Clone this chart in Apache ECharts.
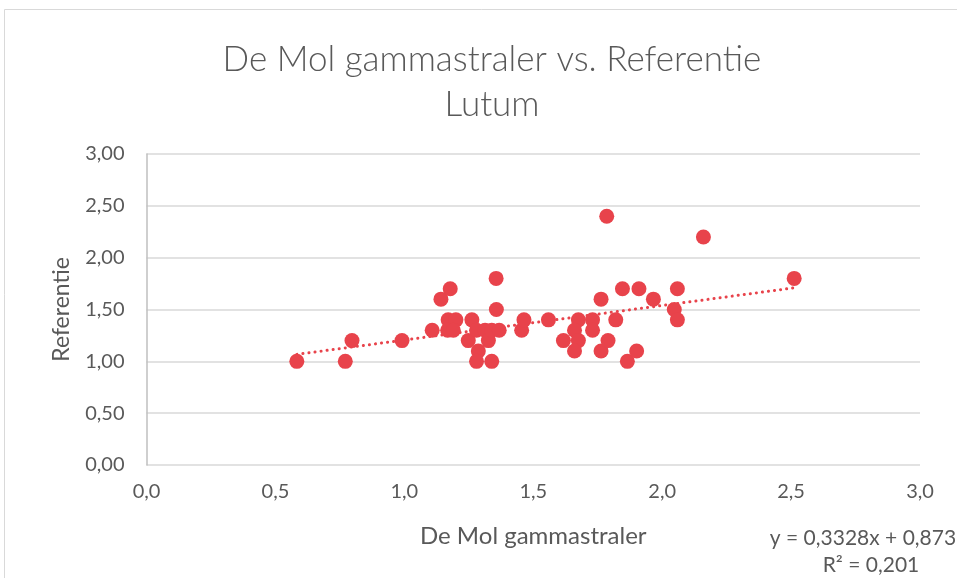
<!DOCTYPE html>
<html>
<head>
<meta charset="utf-8">
<script src="https://cdn.jsdelivr.net/npm/echarts@6/dist/echarts.min.js"></script>
<style>
	html, body { margin: 0; padding: 0; background: #fff; }
	#chart { width: 957px; height: 578px; }
</style>
</head>
<body>
<div id="chart"></div>
<script>
// meetwaarden: De Mol gammastraler (x) en Referentie (y)
const molValues = [
	0.583, 0.771, 0.797, 0.991, 1.108, 1.142, 1.178, 1.17, 1.20, 1.168, 1.19,
	1.262, 1.248, 1.28, 1.287, 1.28, 1.313, 1.326, 1.339, 1.339, 1.368, 1.356, 1.357,
	1.455, 1.464, 1.559, 1.617, 1.675, 1.66, 1.675, 1.66, 1.73, 1.73, 1.763, 1.763,
	1.785, 1.79, 1.82, 1.846, 1.865, 1.901, 1.910, 1.966, 2.047, 2.059, 2.059, 2.160, 2.512
];
const refValues = [
	1.00, 1.00, 1.20, 1.20, 1.30, 1.60, 1.70, 1.40, 1.40, 1.30, 1.30,
	1.40, 1.20, 1.30, 1.10, 1.00, 1.30, 1.20, 1.00, 1.30, 1.30, 1.80, 1.50,
	1.30, 1.40, 1.40, 1.20, 1.40, 1.30, 1.20, 1.10, 1.40, 1.30, 1.60, 1.10,
	2.40, 1.20, 1.40, 1.70, 1.00, 1.10, 1.70, 1.60, 1.50, 1.70, 1.40, 2.20, 1.80
];
// lineaire trendlijn uit Excel
const slope = 0.3328;
const intercept = 0.873;
const rSquared = 0.201;

const fmt = (v, d) => v.toFixed(d).replace(".", ",");

const points = molValues.map((x, i) => [x, refValues[i]]);
const xMin = Math.min(...molValues);
const xMax = Math.max(...molValues);
const trend = [[xMin, slope * xMin + intercept], [xMax, slope * xMax + intercept]];

const textColor = "#595959";
const font = "Lato, 'Noto Sans', sans-serif";
const red = "#E8434B";

const myChart = echarts.init(document.getElementById("chart"));
myChart.setOption({
	animation: false,
	title: {
		text: "De Mol gammastraler vs. Referentie\nLutum",
		left: 487,
		textAlign: "center",
		top: 32,
		textStyle: { fontFamily: font, fontWeight: 300, fontSize: 35, color: textColor, lineHeight: 45 }
	},
	grid: { left: 146.5, right: 37, top: 154, bottom: 113 },
	xAxis: {
		type: "value",
		min: 0, max: 3, interval: 0.5,
		name: "De Mol gammastraler",
		nameLocation: "middle",
		nameGap: 59,
		nameTextStyle: { fontFamily: font, fontSize: 24, color: textColor },
		axisLine: { show: false },
		axisTick: { show: false },
		splitLine: { show: false },
		axisLabel: { fontFamily: font, fontSize: 20, color: textColor, margin: 17, formatter: v => fmt(v, 1) }
	},
	yAxis: {
		type: "value",
		min: 0, max: 3, interval: 0.5,
		name: "Referentie",
		nameLocation: "middle",
		nameGap: 73,
		nameTextStyle: { fontFamily: font, fontSize: 23, color: textColor },
		axisLine: { show: true, lineStyle: { color: "#BFBFBF", width: 1.5 } },
		axisTick: { show: false },
		splitLine: { lineStyle: { color: "#D9D9D9", width: 1.5 } },
		axisLabel: { fontFamily: font, fontSize: 20, color: textColor, margin: 22, formatter: v => fmt(v, 2) }
	},
	series: [
		{
			type: "line",
			data: trend,
			symbol: "none",
			lineStyle: { color: red, width: 3, type: [0.1, 6], cap: "round" },
			z: 3
		},
		{
			type: "scatter",
			data: points,
			symbolSize: 15,
			itemStyle: { color: red, opacity: 1 },
			z: 4
		}
	],
	graphic: [
		{
			type: "rect",
			shape: { x: 4.5, y: 9.5, width: 1000, height: 600 },
			style: { fill: "none", stroke: "#D9D9D9", lineWidth: 1 },
			silent: true
		},
		{
			type: "text",
			x: 863, y: 538,
			style: {
				text: "y = " + fmt(slope, 4) + "x + " + fmt(intercept, 3),
				font: "21px " + font, fill: textColor,
				align: "center", verticalAlign: "middle"
			}
		},
		{
			type: "text",
			x: 871, y: 565,
			style: {
				text: "R² = " + fmt(rSquared, 3),
				font: "21px " + font, fill: textColor,
				align: "center", verticalAlign: "middle"
			}
		}
	]
});
</script>
</body>
</html>
